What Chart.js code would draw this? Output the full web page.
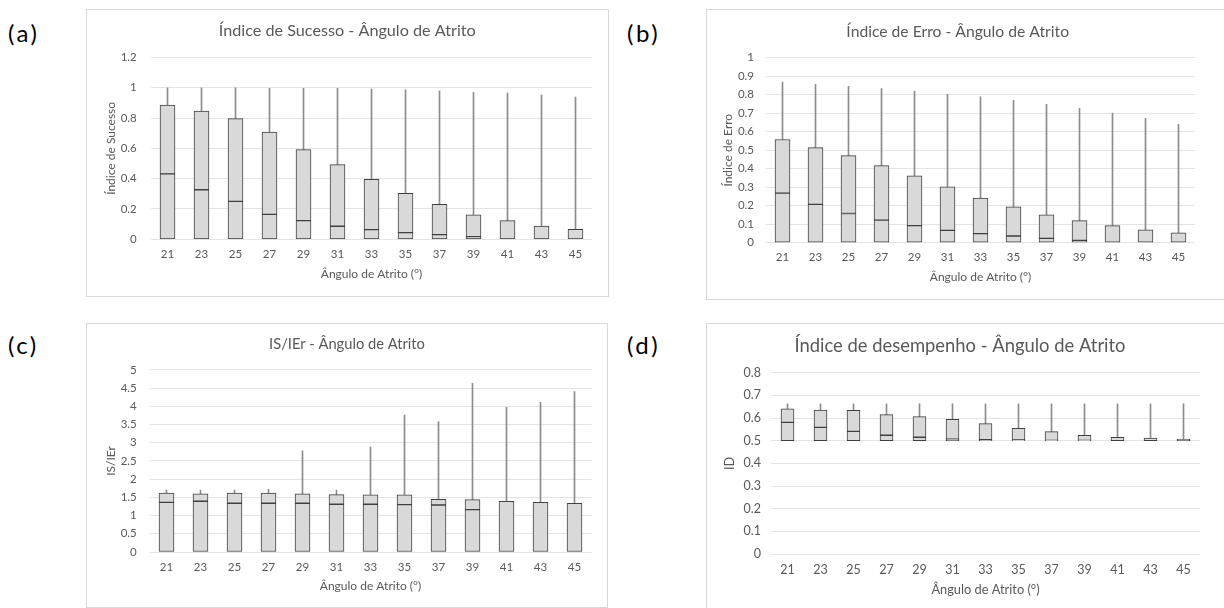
<!DOCTYPE html>
<html>
<head>
<meta charset="utf-8">
<script src="https://cdn.jsdelivr.net/npm/chart.js@4.4.0/dist/chart.umd.min.js"></script>
<style>
    body { margin: 0; background: #fff; width: 1224px; height: 608px; overflow: hidden; position: relative; font-family: Lato, sans-serif; }
    .frame { position: absolute; border: 1px solid #d9d9d9; box-sizing: border-box; }
    canvas { position: absolute; }
    .tag { position: absolute; font-size: 24px; letter-spacing: 2.5px; line-height: 1; color: #000; }
</style>
</head>
<body>
<div class="tag" style="left:8px;top:21px">(a)</div>
<div class="tag" style="left:627px;top:21px">(b)</div>
<div class="tag" style="left:8px;top:333px">(c)</div>
<div class="tag" style="left:627px;top:333px">(d)</div>

<div class="frame" style="left:86px;top:9px;width:523px;height:288px"></div>
<div class="frame" style="left:706px;top:9px;width:540px;height:291px"></div>
<div class="frame" style="left:86px;top:323px;width:522px;height:285px"></div>
<div class="frame" style="left:706px;top:323px;width:540px;height:300px"></div>

<canvas id="chartA" width="522" height="287" style="left:86px;top:9px"></canvas>
<canvas id="chartB" width="518" height="290" style="left:706px;top:9px"></canvas>
<canvas id="chartC" width="522" height="284" style="left:86px;top:323px"></canvas>
<canvas id="chartD" width="518" height="290" style="left:706px;top:323px"></canvas>

<script>
// categorias (ângulo de atrito, graus)
const angles = ['21', '23', '25', '27', '29', '31', '33', '35', '37', '39', '41', '43', '45'];

// (a) Índice de Sucesso
const sucessoMin = [0, 0, 0, 0, 0, 0, 0, 0, 0, 0, 0, 0, 0];
const sucessoMed = [0.432, 0.327, 0.250, 0.164, 0.123, 0.086, 0.064, 0.044, 0.031, 0.018, 0, 0, 0];
const sucessoQ3 = [0.886, 0.846, 0.796, 0.708, 0.592, 0.493, 0.395, 0.303, 0.230, 0.162, 0.123, 0.088, 0.066];
const sucessoMax = [1.0, 1.0, 1.0, 0.996, 0.996, 0.996, 0.991, 0.987, 0.978, 0.969, 0.965, 0.952, 0.939];

// (b) Índice de Erro
const erroMin = [0, 0, 0, 0, 0, 0, 0, 0, 0, 0, 0, 0, 0];
const erroMed = [0.268, 0.207, 0.158, 0.122, 0.092, 0.067, 0.049, 0.036, 0.023, 0.013, 0, 0, 0];
const erroQ3 = [0.558, 0.514, 0.471, 0.417, 0.362, 0.302, 0.241, 0.194, 0.151, 0.119, 0.092, 0.070, 0.054];
const erroMax = [0.869, 0.856, 0.845, 0.833, 0.820, 0.802, 0.788, 0.770, 0.748, 0.727, 0.701, 0.673, 0.640];

// (c) IS/IEr
const razaoMin = [0, 0, 0, 0, 0, 0, 0, 0, 0, 0, 0, 0, 0];
const razaoMed = [1.364, 1.392, 1.337, 1.337, 1.337, 1.31, 1.31, 1.30, 1.29, 1.163, 0, 0, 0];
const razaoQ3 = [1.62, 1.60, 1.62, 1.62, 1.60, 1.575, 1.566, 1.566, 1.447, 1.438, 1.392, 1.364, 1.337];
const razaoMax = [1.70, 1.70, 1.70, 1.72, 2.78, 1.70, 2.88, 3.76, 3.58, 4.63, 3.97, 4.11, 4.40];

// (d) Índice de desempenho
const desempMin = [0.5, 0.5, 0.5, 0.5, 0.5, 0.5, 0.5, 0.5, 0.5, 0.5, 0.5, 0.5, 0.5];
const desempMed = [0.581, 0.559, 0.541, 0.524, 0.515, 0.507, 0.504, 0.503, 0.501, 0.501, 0.5, 0.5, 0.5];
const desempQ3 = [0.641, 0.635, 0.634, 0.615, 0.606, 0.594, 0.575, 0.554, 0.540, 0.524, 0.515, 0.512, 0.506];
const desempMax = [0.663, 0.663, 0.663, 0.663, 0.663, 0.663, 0.663, 0.663, 0.663, 0.663, 0.663, 0.663, 0.663];

Chart.defaults.font.family = 'Lato, sans-serif';
Chart.defaults.color = '#595959';

const pair = (a, b) => a.map((v, i) => [v, b[i]]);

// caixa = duas barras flutuantes sobrepostas + bigode fino
function boxChart(id, s) {
    const boxStyle = {
        backgroundColor: '#d9d9d9',
        borderColor: '#404040',
        borderWidth: 1,
        borderSkipped: false,
        barThickness: s.bar
    };
    new Chart(document.getElementById(id), {
        type: 'bar',
        data: {
            labels: angles,
            datasets: [
                Object.assign({ data: pair(s.min, s.med) }, boxStyle),
                Object.assign({ data: pair(s.med, s.q3) }, boxStyle),
                { data: pair(s.q3, s.max), backgroundColor: '#8c8c8c', borderWidth: 0, barThickness: 1 }
            ]
        },
        options: {
            responsive: false,
            animation: false,
            layout: { padding: { left: s.padL, right: s.padR, top: 0, bottom: 0 } },
            plugins: {
                legend: { display: false },
                tooltip: { enabled: false },
                title: {
                    display: true,
                    text: s.title,
                    font: { size: s.titleSize, weight: 'normal' },
                    padding: { top: s.titlePad[0], bottom: s.titlePad[1] }
                }
            },
            scales: {
                x: {
                    stacked: true,
                    grid: { display: false, drawTicks: false },
                    border: { display: false },
                    ticks: { padding: s.xTickPad, font: { size: s.tickSize } },
                    title: { display: true, text: 'Ângulo de Atrito (°)', font: { size: s.axisSize }, padding: { top: 0, bottom: s.xTitlePad } },
                    afterFit: sc => { sc.height = s.xH; }
                },
                y: {
                    min: s.yMin,
                    max: s.yMax,
                    grid: { color: '#e4e4e4', drawTicks: false },
                    border: { display: false },
                    ticks: {
                        stepSize: s.step,
                        padding: s.yTickPad,
                        font: { size: s.tickSize },
                        callback: v => String(Math.round(v * 100) / 100)
                    },
                    title: { display: true, text: s.yTitle, font: { size: s.axisSize }, padding: { top: s.yTitlePad, bottom: 0 } },
                    afterFit: sc => { sc.width = s.yW; }
                }
            }
        }
    });
}

boxChart('chartA', {
    min: sucessoMin, med: sucessoMed, q3: sucessoQ3, max: sucessoMax,
    title: 'Índice de Sucesso - Ângulo de Atrito', yTitle: 'Índice de Sucesso',
    yMin: 0, yMax: 1.2, step: 0.2, bar: 15,
    padL: 16, padR: 15.5, yW: 48.5, yTickPad: 13.8, yTitlePad: 1.5,
    titleSize: 16.2, titlePad: [12.3, 16.7], tickSize: 11.5, axisSize: 12,
    xTickPad: 8.5, xH: 56.7, xTitlePad: 15.1
});

boxChart('chartB', {
    min: erroMin, med: erroMed, q3: erroQ3, max: erroMax,
    title: 'Índice de Erro - Ângulo de Atrito', yTitle: 'Índice de Erro',
    yMin: 0, yMax: 1, step: 0.1, bar: 15,
    padL: 14.4, padR: 29, yW: 45.6, yTickPad: 12, yTitlePad: 0.4,
    titleSize: 15.7, titlePad: [13.3, 16.6], tickSize: 11.5, axisSize: 12,
    xTickPad: 8.1, xH: 56.3, xTitlePad: 15.1
});

boxChart('chartC', {
    min: razaoMin, med: razaoMed, q3: razaoQ3, max: razaoMax,
    title: 'IS/IEr - Ângulo de Atrito', yTitle: 'IS/IEr',
    yMin: 0, yMax: 5, step: 0.5, bar: 15,
    padL: 16.5, padR: 16.5, yW: 47, yTickPad: 12.8, yTitlePad: 1,
    titleSize: 14.7, titlePad: [12.5, 16.7], tickSize: 11.5, axisSize: 12,
    xTickPad: 8.4, xH: 55, xTitlePad: 13.8
});

boxChart('chartD', {
    min: desempMin, med: desempMed, q3: desempQ3, max: desempMax,
    title: 'Índice de desempenho - Ângulo de Atrito', yTitle: 'ID',
    yMin: 0, yMax: 0.8, step: 0.1, bar: 13,
    padL: 14, padR: 24, yW: 51, yTickPad: 10, yTitlePad: 2.2,
    titleSize: 18.4, titlePad: [11.7, 15.9], tickSize: 12.5, axisSize: 12.8,
    xTickPad: 8.5, xH: 59, xTitlePad: 15.2
});
</script>
</body>
</html>
